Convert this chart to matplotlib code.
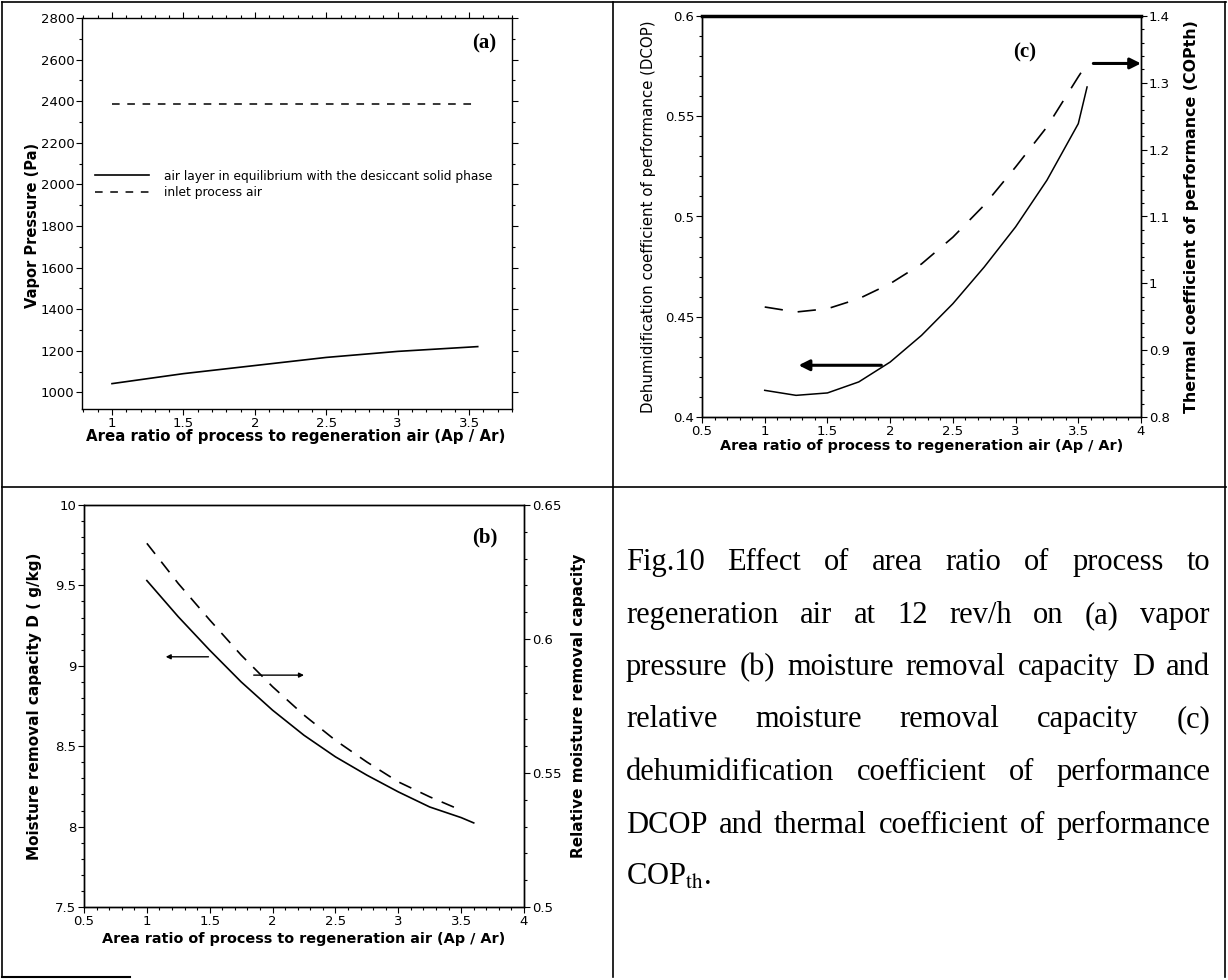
import matplotlib
matplotlib.use('Agg')
import matplotlib.pyplot as plt
from matplotlib.lines import Line2D
from matplotlib.ticker import MultipleLocator, FuncFormatter

W, H = 1228, 980

# (a) vapor pressure vs area ratio
ratio_a = [1.0, 1.5, 2.0, 2.5, 3.0, 3.56]
p_layer = [1042, 1090, 1129, 1168, 1197, 1220]
ratio_inlet = [1.0, 3.56]
p_inlet = [2385, 2385]

# (b) moisture removal capacity D (left) and relative capacity (right)
ratio_b = [1.0, 1.25, 1.5, 1.75, 2.0, 2.25, 2.5, 2.75, 3.0, 3.25, 3.5, 3.6]
d_cap = [9.53, 9.305, 9.097, 8.90, 8.724, 8.568, 8.434, 8.32, 8.216, 8.122, 8.056, 8.023]
ratio_b_rel = [1.0, 1.25, 1.5, 1.75, 2.0, 2.25, 2.5, 2.75, 3.0, 3.25, 3.47]
rel_cap = [0.6357, 0.6207, 0.6071, 0.594, 0.5822, 0.5716, 0.5622, 0.5541, 0.5467, 0.5411, 0.5367]

# (c) DCOP (left) and COPth (right)
ratio_c = [1.0, 1.25, 1.5, 1.75, 2.0, 2.25, 2.5, 2.75, 3.0, 3.25, 3.5, 3.57]
dcop = [0.4133, 0.4108, 0.412, 0.4175, 0.4274, 0.4407, 0.4565, 0.4748, 0.4948, 0.5181, 0.5463, 0.5646]
copth = [0.9646, 0.9571, 0.962, 0.977, 0.9995, 1.029, 1.069, 1.117, 1.174, 1.234, 1.309, 1.329]

caption_lines = [
    "Fig.10 Effect of area ratio of process to",
    "regeneration air at 12 rev/h on (a) vapor",
    "pressure (b) moisture removal capacity D and",
    "relative moisture removal capacity (c)",
    "dehumidification coefficient of performance",
    "DCOP and thermal coefficient of performance",
    r"COP$_{\mathrm{th}}$.",
]

XLABEL = 'Area ratio of process to regeneration air (Ap / Ar)'

plt.rcParams['font.family'] = ['DejaVu Sans']
plt.rcParams['mathtext.fontset'] = 'stix'

fig = plt.figure(figsize=(W / 100, H / 100), dpi=100)
gfmt = FuncFormatter(lambda v, p: '%g' % v)


def frame_axes(l, t, r, b):
    return fig.add_axes([l / W, 1 - b / H, (r - l) / W, (b - t) / H])


def style(ax):
    ax.tick_params(which='both', direction='out', labelsize=9.5, width=0.8, pad=1.5)
    ax.tick_params(which='major', length=4)
    ax.tick_params(which='minor', length=2)
    for s in ax.spines.values():
        s.set_linewidth(1.0)


def hline(x0, x1, y, lw=1.2, color='black'):
    fig.add_artist(Line2D([x0 / W, x1 / W], [1 - y / H, 1 - y / H], lw=lw, color=color))


def vline(x, y0, y1, lw=1.2):
    fig.add_artist(Line2D([x / W, x / W], [1 - y0 / H, 1 - y1 / H], lw=lw, color='black'))


# table borders
hline(2, 1226, 2)
hline(2, 1226, 487)
vline(2, 2, 977)
vline(613, 2, 977)
vline(1225, 2, 977)
hline(2, 130, 977, lw=1.5)

# ---------------- (a) ----------------
ax = frame_axes(82, 18, 512, 409)
style(ax)
ax.plot(ratio_a, p_layer, color='black', lw=1.2,
        label='air layer in equilibrium with the desiccant solid phase')
ax.plot(ratio_inlet, p_inlet, color='black', lw=1.1, linestyle=(0, (5, 5)),
        label='inlet process air')
ax.set_xlim(0.79, 3.8)
ax.set_ylim(920, 2800)
ax.xaxis.set_major_locator(MultipleLocator(0.5))
ax.xaxis.set_minor_locator(MultipleLocator(0.1))
ax.yaxis.set_major_locator(MultipleLocator(200))
ax.yaxis.set_minor_locator(MultipleLocator(100))
ax.xaxis.set_major_formatter(gfmt)
ax.tick_params(top=True, right=True, which='both')
ax.set_xlabel(XLABEL, fontsize=10.8, fontweight='bold')
ax.set_ylabel('Vapor Pressure (Pa)', fontsize=10.5, fontweight='bold')
ax.xaxis.set_label_coords(0.498, -0.052)
ax.yaxis.set_label_coords(-0.098, 0.47)
ax.legend(loc='upper left', bbox_to_anchor=(0.02, 0.625), frameon=False,
          fontsize=8.8, handlelength=4.4, handletextpad=1.2,
          borderaxespad=0, labelspacing=0.3)
ax.text(0.935, 0.935, '(a)', transform=ax.transAxes, ha='center', va='center',
        family='Liberation Serif', fontweight='bold', fontsize=15)

# ---------------- (c) ----------------
ax = frame_axes(702, 16, 1141, 417)
style(ax)
ax.spines['top'].set_linewidth(2.5)
ax.plot(ratio_c, dcop, color='black', lw=1.1)
ax.set_xlim(0.5, 4)
ax.set_ylim(0.4, 0.6)
ax.xaxis.set_major_locator(MultipleLocator(0.5))
ax.xaxis.set_minor_locator(MultipleLocator(0.1))
ax.yaxis.set_major_locator(MultipleLocator(0.05))
ax.yaxis.set_minor_locator(MultipleLocator(0.01))
ax.xaxis.set_major_formatter(gfmt)
ax.yaxis.set_major_formatter(gfmt)
ax.set_xlabel(XLABEL, fontsize=10.4, fontweight='bold')
ax.set_ylabel('Dehumidification coefficient of performance (DCOP)', fontsize=10.8)
ax.xaxis.set_label_coords(0.5, -0.054)
ax.yaxis.set_label_coords(-0.105, 0.5)
ax.annotate('', xy=(1.27, 0.4258), xytext=(1.93, 0.4258),
            arrowprops=dict(arrowstyle='-|>', color='black', lw=2.2,
                            mutation_scale=16, shrinkA=0, shrinkB=0))
ax.text(0.736, 0.908, '(c)', transform=ax.transAxes, ha='center', va='center',
        family='Liberation Serif', fontweight='bold', fontsize=15)
ax2 = ax.twinx()
style(ax2)
ax2.plot(ratio_c, copth, color='black', lw=1.2, linestyle=(0, (11, 9)))
ax2.set_ylim(0.8, 1.4)
ax2.yaxis.set_major_locator(MultipleLocator(0.1))
ax2.yaxis.set_minor_locator(MultipleLocator(0.02))
ax2.yaxis.set_major_formatter(gfmt)
ax2.set_ylabel('Thermal coefficient of performance (COPth)', fontsize=11.4, fontweight='bold')
ax2.yaxis.set_label_coords(1.098, 0.5)
ax2.annotate('', xy=(4.0, 1.329), xytext=(3.62, 1.329), annotation_clip=False,
             arrowprops=dict(arrowstyle='-|>', color='black', lw=2.2,
                             mutation_scale=16, shrinkA=0, shrinkB=0))

# ---------------- (b) ----------------
ax = frame_axes(84, 505, 524, 907)
style(ax)
ax.plot(ratio_b, d_cap, color='black', lw=1.2)
ax.set_xlim(0.5, 4)
ax.set_ylim(7.5, 10)
ax.xaxis.set_major_locator(MultipleLocator(0.5))
ax.xaxis.set_minor_locator(MultipleLocator(0.1))
ax.yaxis.set_major_locator(MultipleLocator(0.5))
ax.yaxis.set_minor_locator(MultipleLocator(0.1))
ax.xaxis.set_major_formatter(gfmt)
ax.yaxis.set_major_formatter(gfmt)
ax.set_xlabel(XLABEL, fontsize=10.4, fontweight='bold')
ax.set_ylabel('Moisture removal capacity D ( g/kg)', fontsize=11, fontweight='bold')
ax.xaxis.set_label_coords(0.5, -0.062)
ax.yaxis.set_label_coords(-0.095, 0.5)
ax.annotate('', xy=(1.15, 9.056), xytext=(1.49, 9.056),
            arrowprops=dict(arrowstyle='-|>', color='black', lw=1.0,
                            mutation_scale=7, shrinkA=0, shrinkB=0))
ax.annotate('', xy=(2.25, 8.942), xytext=(1.85, 8.942),
            arrowprops=dict(arrowstyle='-|>', color='black', lw=1.0,
                            mutation_scale=7, shrinkA=0, shrinkB=0))
ax.text(0.91, 0.918, '(b)', transform=ax.transAxes, ha='center', va='center',
        family='Liberation Serif', fontweight='bold', fontsize=15)
ax2 = ax.twinx()
style(ax2)
ax2.plot(ratio_b_rel, rel_cap, color='black', lw=1.2, linestyle=(0, (8, 6)))
ax2.set_ylim(0.5, 0.65)
ax2.yaxis.set_major_locator(MultipleLocator(0.05))
ax2.yaxis.set_minor_locator(MultipleLocator(0.01))
ax2.yaxis.set_major_formatter(gfmt)
ax2.set_ylabel('Relative moisture removal capacity', fontsize=11, fontweight='bold')
ax2.yaxis.set_label_coords(1.107, 0.5)

# ---------------- caption (justified) ----------------
x0, x1 = 626, 1210
baselines = [570, 623, 675, 727, 780, 833, 885]
fig.canvas.draw()
rend = fig.canvas.get_renderer()
for i, line in enumerate(caption_lines):
    words = line.split()
    texts = [fig.text(0, 1 - baselines[i] / H, w, fontsize=22,
                      family='Liberation Serif', va='baseline', ha='left')
             for w in words]
    widths = [t.get_window_extent(rend).width for t in texts]
    if i < len(caption_lines) - 1 and len(words) > 1:
        gap = (x1 - x0 - sum(widths)) / (len(words) - 1)
    else:
        gap = 6
    x = x0
    for t, wd in zip(texts, widths):
        t.set_x(x / W)
        x += wd + gap

fig.savefig('out.png', dpi=100)
